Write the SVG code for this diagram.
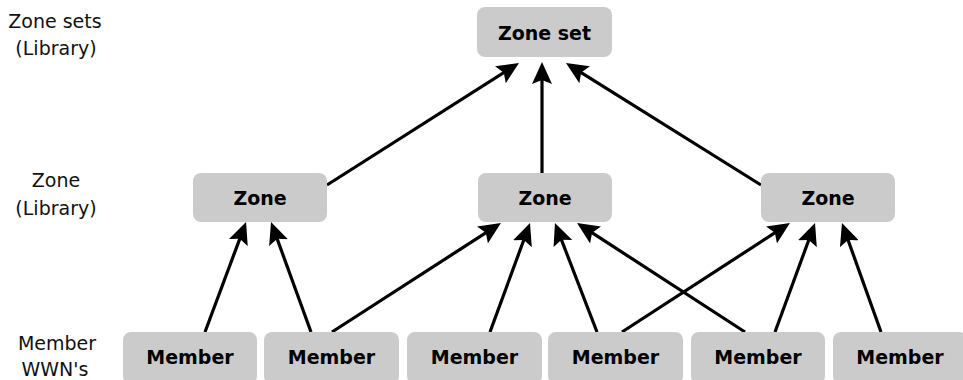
<svg xmlns="http://www.w3.org/2000/svg" width="963" height="380" viewBox="0 0 963 380">
<style>
.box{fill:#cbcbcb;}
.nt{font-family:"DejaVu Sans",Verdana,sans-serif;font-size:19px;font-weight:bold;fill:#000;text-anchor:middle;}
.lbl{font-family:"DejaVu Sans",Verdana,sans-serif;font-size:19px;fill:#111;text-anchor:middle;}
.edge{stroke:#000;stroke-width:3.2;fill:none;marker-end:url(#ah);}
</style>
<defs>
<marker id="ah" viewBox="0 0 22 20" refX="13" refY="10" markerWidth="22" markerHeight="20" markerUnits="userSpaceOnUse" orient="auto">
<path d="M0,0 L22,10 L0,20 L4,10 z" fill="#000"/>
</marker>
</defs>
<g id="labels">
<text class="lbl" x="55" y="28">Zone sets</text>
<text class="lbl" x="56" y="55">(Library)</text>
<text class="lbl" x="56" y="187">Zone</text>
<text class="lbl" x="56" y="215">(Library)</text>
<text class="lbl" x="57" y="350">Member</text>
<text class="lbl" x="55" y="376">WWN's</text>
</g>
<g id="connectors">
<line class="edge" x1="327" y1="185" x2="511.4" y2="67.8"/>
<line class="edge" x1="542" y1="173" x2="542" y2="71"/>
<line class="edge" x1="761" y1="185" x2="573.6" y2="67.8"/>
<line class="edge" x1="205" y1="332" x2="242.9" y2="230.4"/>
<line class="edge" x1="311" y1="332" x2="274.1" y2="230.4"/>
<line class="edge" x1="332" y1="332" x2="493.4" y2="227.9"/>
<line class="edge" x1="490" y1="332" x2="526.9" y2="231.5"/>
<line class="edge" x1="597" y1="332" x2="558.2" y2="231.4"/>
<line class="edge" x1="745" y1="332" x2="584.6" y2="227.9"/>
<line class="edge" x1="622" y1="332" x2="782.4" y2="227.9"/>
<line class="edge" x1="775" y1="332" x2="811.9" y2="231.5"/>
<line class="edge" x1="881" y1="332" x2="845" y2="231.5"/>
</g>
<g id="zoneset"><rect class="box" x="477" y="7" width="135" height="50" rx="8"/><text class="nt" x="544.5" y="40">Zone set</text></g>
<g id="zone1"><rect class="box" x="193" y="173" width="134" height="49" rx="8"/><text class="nt" x="260" y="205">Zone</text></g>
<g id="zone2"><rect class="box" x="478" y="173" width="134" height="49" rx="8"/><text class="nt" x="545" y="205">Zone</text></g>
<g id="zone3"><rect class="box" x="761" y="173" width="134" height="49" rx="8"/><text class="nt" x="828" y="205">Zone</text></g>
<g id="member1"><rect class="box" x="123" y="332" width="134" height="52" rx="8"/><text class="nt" x="190" y="364">Member</text></g>
<g id="member2"><rect class="box" x="264" y="332" width="135" height="52" rx="8"/><text class="nt" x="331.5" y="364">Member</text></g>
<g id="member3"><rect class="box" x="407" y="332" width="135" height="52" rx="8"/><text class="nt" x="474.5" y="364">Member</text></g>
<g id="member4"><rect class="box" x="548" y="332" width="135" height="52" rx="8"/><text class="nt" x="615.5" y="364">Member</text></g>
<g id="member5"><rect class="box" x="691" y="332" width="134" height="52" rx="8"/><text class="nt" x="758" y="364">Member</text></g>
<g id="member6"><rect class="box" x="833" y="332" width="134" height="52" rx="8"/><text class="nt" x="900" y="364">Member</text></g>
</svg>
